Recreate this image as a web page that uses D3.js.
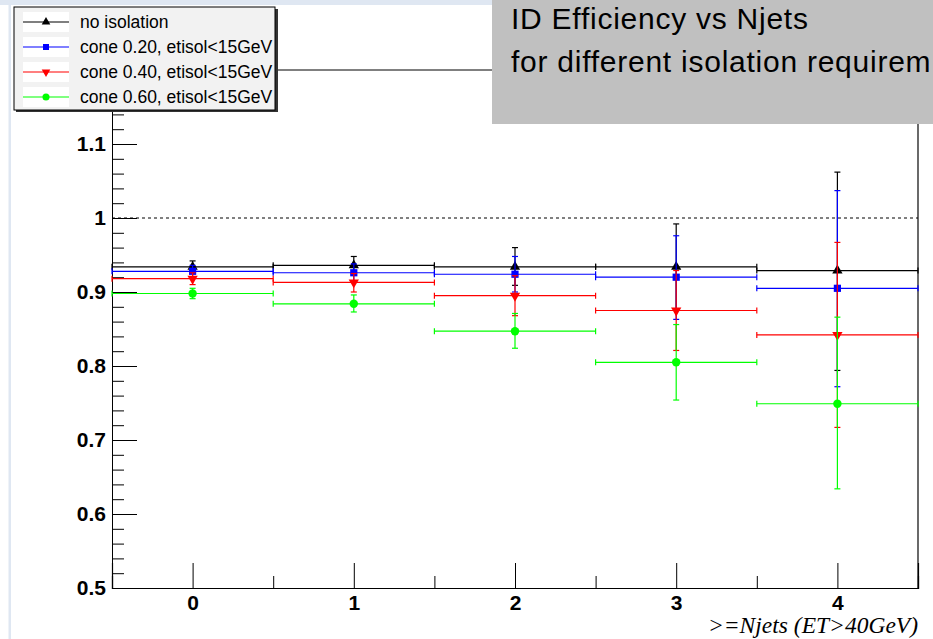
<!DOCTYPE html>
<html>
<head>
<meta charset="utf-8">
<script src="https://cdn.jsdelivr.net/npm/d3@7"></script>
<style>
  html, body { margin: 0; padding: 0; background: #ffffff; overflow: hidden; }
  svg { display: block; }
</style>
</head>
<body>
<script>
// Jet multiplicity bins (>= N jets)
const njets = [0, 1, 2, 3, 4];

// Efficiency per isolation requirement
const effNoIso   = [0.934, 0.936, 0.934, 0.934, 0.929];
const effCone020 = [0.928, 0.926, 0.924, 0.920, 0.905];
const effCone040 = [0.918, 0.913, 0.895, 0.875, 0.842];
const effCone060 = [0.898, 0.884, 0.847, 0.805, 0.749];

// Asymmetric uncertainties (upper / lower)
const errHiNoIso   = [0.008, 0.012, 0.026, 0.058, 0.133];
const errLoNoIso   = [0.008, 0.012, 0.025, 0.058, 0.135];
const errHiCone020 = [0.008, 0.012, 0.024, 0.056, 0.132];
const errLoCone020 = [0.008, 0.012, 0.024, 0.057, 0.133];
const errHiCone040 = [0.008, 0.012, 0.027, 0.054, 0.125];
const errLoCone040 = [0.008, 0.013, 0.027, 0.054, 0.125];
const errHiCone060 = [0.007, 0.012, 0.024, 0.051, 0.117];
const errLoCone060 = [0.007, 0.011, 0.023, 0.051, 0.115];

const seriesNames = [
  "no isolation",
  "cone 0.20, etisol<15GeV",
  "cone 0.40, etisol<15GeV",
  "cone 0.60, etisol<15GeV"
];

const yMajorTicks = [0.5, 0.6, 0.7, 0.8, 0.9, 1.0, 1.1, 1.2];
const xMajorTicks = [0, 1, 2, 3, 4];

const titleLines = ["ID Efficiency vs Njets", "for different isolation requirem"];
const xTitle = ">=Njets (ET>40GeV)";

const series = [
  { name: seriesNames[0], y: effNoIso,   hi: errHiNoIso,   lo: errLoNoIso,   color: "#000000", symbol: "up" },
  { name: seriesNames[1], y: effCone020, hi: errHiCone020, lo: errLoCone020, color: "#0000ff", symbol: "square" },
  { name: seriesNames[2], y: effCone040, hi: errHiCone040, lo: errLoCone040, color: "#ff0000", symbol: "down" },
  { name: seriesNames[3], y: effCone060, hi: errHiCone060, lo: errLoCone060, color: "#00ff00", symbol: "circle" }
];

const W = 933, H = 639;
const svg = d3.select("body").append("svg").attr("width", W).attr("height", H);

// Canvas decoration
svg.append("rect").attr("x", 0).attr("y", 0).attr("width", W).attr("height", 5).attr("fill", "#dfe7f2");
svg.append("rect").attr("x", 8.5).attr("y", 0).attr("width", 2.5).attr("height", H).attr("fill", "#dfe7f2");

const x = d3.scaleLinear().domain([-0.5, 4.5]).range([112, 918]);
const y = d3.scaleLinear().domain([0.5, 1.2]).range([588, 70]);

const axisFont = "'Liberation Sans', Arial, Helvetica, sans-serif";

// Frame
const frame = svg.append("g");
frame.append("line").attr("x1", x(-0.5)).attr("x2", x(4.5)).attr("y1", y(1.2)).attr("y2", y(1.2))
  .attr("stroke", "#000").attr("stroke-width", 1);
frame.append("line").attr("x1", x(4.5)).attr("x2", x(4.5)).attr("y1", y(1.2)).attr("y2", y(0.5))
  .attr("stroke", "#444").attr("stroke-width", 1.6);

// Reference line at efficiency 1
svg.append("line")
  .attr("x1", x(-0.5)).attr("x2", x(4.5)).attr("y1", y(1)).attr("y2", y(1))
  .attr("stroke", "#000").attr("stroke-width", 1).attr("stroke-dasharray", "3,3");

// Y axis: major + minor ticks pointing inward
const yMinor = d3.range(0.5, 1.2001, 0.02).filter(v => Math.abs(v * 10 - Math.round(v * 10)) > 1e-6);
const gyMinor = svg.append("g").attr("transform", `translate(${x(-0.5)},0)`)
  .call(d3.axisLeft(y).tickValues(yMinor).tickSize(-12).tickFormat(""));
const gy = svg.append("g").attr("transform", `translate(${x(-0.5)},0)`)
  .call(d3.axisLeft(y).tickValues(yMajorTicks.filter(v => v < 1.15)).tickSize(-25).tickPadding(6)
    .tickFormat(d3.format("~g")));
[gyMinor, gy].forEach(g => {
  g.select(".domain").attr("stroke", "#000").attr("stroke-width", 1);
  g.selectAll(".tick line").attr("stroke", "#000").attr("stroke-width", 1);
});
gy.selectAll(".tick text").attr("font-family", axisFont).attr("font-weight", "bold")
  .attr("font-size", 21).attr("fill", "#000");

// X axis
const xMinor = [-0.5, 0.5, 1.5, 2.5, 3.5, 4.5];
const gxMinor = svg.append("g").attr("transform", `translate(0,${y(0.5)})`)
  .call(d3.axisBottom(x).tickValues(xMinor).tickSize(-12).tickFormat(""));
const gx = svg.append("g").attr("transform", `translate(0,${y(0.5)})`)
  .call(d3.axisBottom(x).tickValues(xMajorTicks).tickSize(-25).tickPadding(7).tickFormat(d3.format("d")));
[gxMinor, gx].forEach(g => {
  g.select(".domain").attr("stroke", "#000").attr("stroke-width", 1.2);
  g.selectAll(".tick line").attr("stroke", "#000").attr("stroke-width", 1);
});
gx.selectAll(".tick text").attr("font-family", axisFont).attr("font-weight", "bold")
  .attr("font-size", 21).attr("fill", "#000");

svg.append("text")
  .attr("x", x(4.5)).attr("y", 633).attr("text-anchor", "end")
  .attr("font-family", "'Liberation Serif', 'Times New Roman', serif")
  .attr("font-style", "italic").attr("font-size", 23.5).attr("fill", "#000")
  .text(xTitle);

// Marker shapes
function markerPath(kind, scale) {
  const k = scale || 1;
  if (kind === "up" || kind === "down") return d3.symbol(d3.symbolTriangle, 46 * k)();
  if (kind === "square") return d3.symbol(d3.symbolSquare, 52 * k)();
  return d3.symbol(d3.symbolCircle, 56 * k)();
}
function markerRot(kind) { return kind === "down" ? 180 : 0; }

// Data: horizontal bin-width bars, vertical error bars, markers
const cap = 3;
series.forEach(s => {
  const g = svg.append("g").attr("stroke", s.color).attr("fill", s.color);
  njets.forEach((n, i) => {
    const cx = x(n), cy = y(s.y[i]);
    const xl = x(n - 0.5), xr = x(n + 0.5);
    const yt = y(s.y[i] + s.hi[i]), yb = y(s.y[i] - s.lo[i]);
    g.append("line").attr("x1", xl).attr("x2", xr).attr("y1", cy).attr("y2", cy).attr("stroke-width", 1.2);
    g.append("line").attr("x1", xl).attr("x2", xl).attr("y1", cy - cap).attr("y2", cy + cap).attr("stroke-width", 1.2);
    g.append("line").attr("x1", xr).attr("x2", xr).attr("y1", cy - cap).attr("y2", cy + cap).attr("stroke-width", 1.2);
    g.append("line").attr("x1", cx).attr("x2", cx).attr("y1", yt).attr("y2", yb).attr("stroke-width", 1.2);
    g.append("line").attr("x1", cx - cap).attr("x2", cx + cap).attr("y1", yt).attr("y2", yt).attr("stroke-width", 1.2);
    g.append("line").attr("x1", cx - cap).attr("x2", cx + cap).attr("y1", yb).attr("y2", yb).attr("stroke-width", 1.2);
    g.append("path").attr("d", markerPath(s.symbol)).attr("stroke", "none")
      .attr("transform", `translate(${cx},${cy}) rotate(${markerRot(s.symbol)})`);
  });
});

// Title box
const tb = svg.append("g");
tb.append("rect").attr("x", 492).attr("y", 0).attr("width", 460).attr("height", 124).attr("fill", "#c0c0c0");
titleLines.forEach((t, i) => {
  tb.append("text").attr("x", 511).attr("y", 29 + i * 43)
    .attr("font-family", axisFont).attr("font-size", 30).attr("letter-spacing", 0.75)
    .attr("fill", "#000").text(t);
});

// Legend
const lg = svg.append("g");
lg.append("rect").attr("x", 16).attr("y", 9).attr("width", 262).attr("height", 103).attr("fill", "#333");
lg.append("rect").attr("x", 14).attr("y", 7).attr("width", 261).attr("height", 103)
  .attr("fill", "#f2f2f2").attr("stroke", "#000").attr("stroke-width", 1);
const rowY = d => 22 + d * 25;
series.forEach((s, i) => {
  const ry = rowY(i);
  lg.append("rect").attr("x", 23).attr("y", ry - 10).attr("width", 46).attr("height", 20).attr("fill", "#ffffff");
  lg.append("line").attr("x1", 23).attr("x2", 69).attr("y1", ry).attr("y2", ry)
    .attr("stroke", s.color).attr("stroke-width", 1.2);
  lg.append("path").attr("d", markerPath(s.symbol, 0.7))
    .attr("fill", s.color).attr("transform", `translate(46,${ry}) rotate(${markerRot(s.symbol)})`);
  lg.append("text").attr("x", 80).attr("y", ry).attr("dy", "0.35em")
    .attr("font-family", axisFont).attr("font-size", 17.5).attr("fill", "#000").text(s.name);
});
</script>
</body>
</html>
